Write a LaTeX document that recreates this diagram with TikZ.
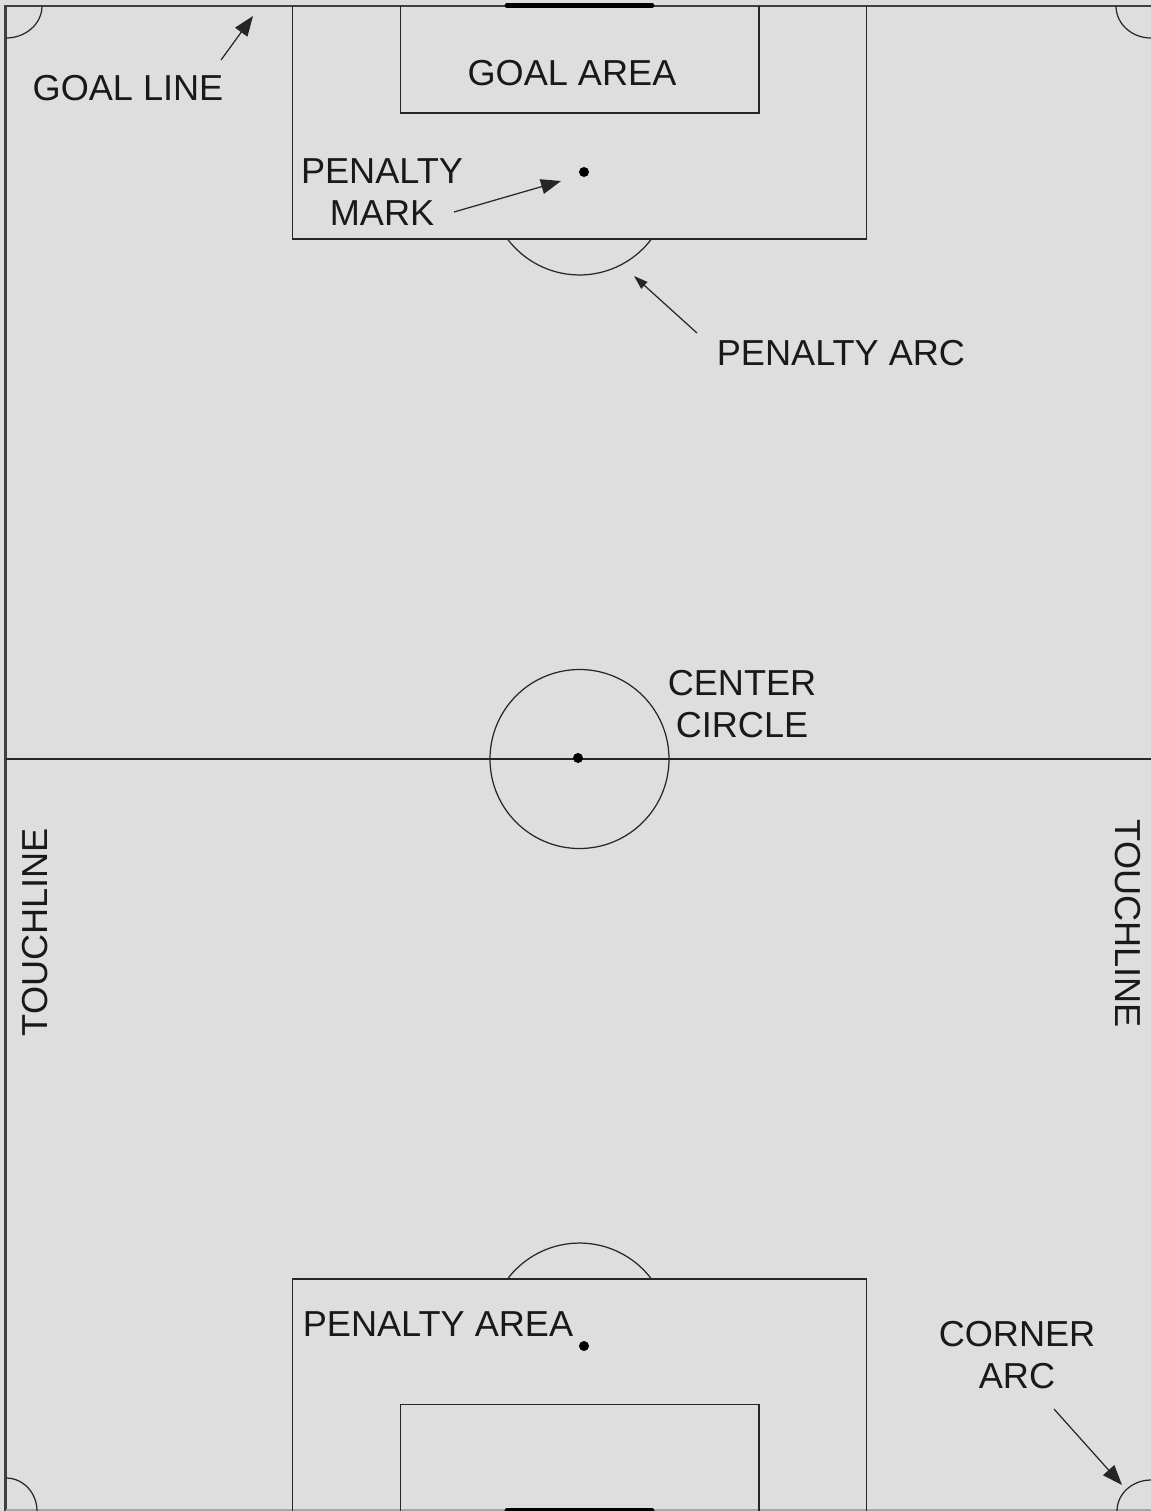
\documentclass[tikz,border=0pt]{standalone}
\usepackage{fontspec}
\setmainfont{Liberation Sans}
\usetikzlibrary{arrows.meta}
\definecolor{pitchgray}{HTML}{DEDEDE}
\tikzset{
  pitchline/.style={line width=0.35pt,draw=black!85},
  callout/.style={line width=0.35pt,draw=black!85,-{Triangle[length=0.2cm,width=0.15cm]}},
  labeltext/.style={font=\fontsize{10.27}{12}\selectfont,align=center,text=black!90,inner sep=0pt},
  spot/.style={circle,fill=black,inner sep=0pt,minimum size=0.1cm}
}
\begin{document}
\begin{tikzpicture}[x=0.01cm,y=-0.01cm]
  \useasboundingbox (0,0) rectangle (1151,1511);
  \fill[pitchgray] (0,0) rectangle (1151,1511);
  % Touchlines and goal lines
  \draw[pitchline,line width=0.75pt,draw=black!75] (5.5,1511)--(5.5,6)--(1151,6);
  \draw[pitchline,draw=black!35] (6,1510)--(1151,1510);
  % Halfway line and centre
  \draw[pitchline] (6,759)--(1151,759);
  \draw[pitchline] (579.5,759) circle (89.5);
  \node[spot] (centerspot) at (578,758) {};
  % Top end
  \draw[pitchline] (292.5,6)--(292.5,239)--(866.5,239)--(866.5,6);
  \draw[pitchline] (400.5,6)--(400.5,113)--(759,113)--(759,6);
  \draw[pitchline] (507.5,239) arc[start angle=143.1,end angle=36.9,radius=90];
  \node[spot] (topspot) at (584,172) {};
  \draw[line width=1.4pt,line cap=round] (507,5.5)--(652,5.5);
  % Bottom end
  \draw[pitchline] (292.5,1511)--(292.5,1279)--(866.5,1279)--(866.5,1511);
  \draw[pitchline] (400.5,1511)--(400.5,1404.5)--(759,1404.5)--(759,1511);
  \draw[pitchline] (507.5,1279) arc[start angle=216.9,end angle=323.1,radius=90];
  \node[spot] (bottomspot) at (584,1346) {};
  \draw[line width=1.4pt,line cap=round] (507,1510.5)--(652,1510.5);
  % Corner arcs
  \draw[pitchline] (42,6) arc[start angle=0,end angle=90,x radius=36,y radius=32];
  \draw[pitchline] (1116,6) arc[start angle=180,end angle=90,x radius=35,y radius=32];
  \draw[pitchline] (37,1511) arc[start angle=0,end angle=-90,x radius=31,y radius=33];
  \draw[pitchline] (1117,1511) arc[start angle=180,end angle=270,x radius=34,y radius=31];
  % Labels
  \node[labeltext] (goalline) at (128,88) {GOAL LINE};
  \node[labeltext] (goalarea) at (572,73) {GOAL AREA};
  \node[labeltext] (penaltymark) at (382,192) {PENALTY\\MARK};
  \node[labeltext] (penaltyarc) at (841,353) {PENALTY ARC};
  \node[labeltext] (centercircle) at (742,704) {CENTER\\CIRCLE};
  \node[labeltext,rotate=90] (touchleft) at (35,932) {TOUCHLINE};
  \node[labeltext,rotate=-90] (touchright) at (1128,924) {TOUCHLINE};
  \node[labeltext] (penaltyarea) at (438,1324) {PENALTY AREA};
  \node[labeltext] (cornerarc) at (1017,1355) {CORNER\\ARC};
  % Pointers
  \coordinate (goallinetip) at (253,16);
  \coordinate (marktip) at (561,181);
  \coordinate (arctip) at (634,276);
  \coordinate (cornertip) at (1122,1485);
  \draw[callout] (221,60)--(goallinetip);
  \draw[callout] (454,212)--(marktip);
  \draw[callout,-{Triangle[length=0.14cm,width=0.09cm]}] (697,333)--(arctip);
  \draw[callout] (1054,1409)--(cornertip);
\end{tikzpicture}
\end{document}
